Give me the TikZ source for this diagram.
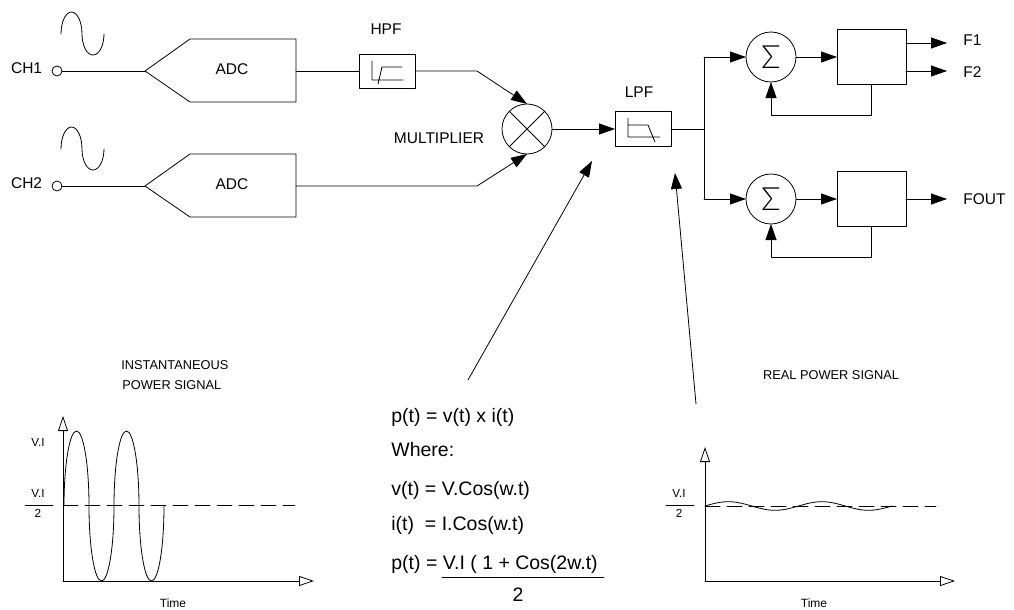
\documentclass[tikz,border=0pt]{standalone}
\usepackage{fontspec}
\setmainfont{Liberation Sans}
\newfontfamily\sumfont{Lato Light}
\usetikzlibrary{arrows.meta}
\tikzset{
	lbl/.style={inner sep=0pt,font=\fontsize{15.5}{18}\selectfont},
	smalltxt/.style={inner sep=0pt,font=\fontsize{12.8}{15}\selectfont},
	tinytxt/.style={inner sep=0pt,font=\fontsize{11.7}{14}\selectfont},
	eqn/.style={inner sep=0pt,anchor=base west,font=\fontsize{19.5}{23}\selectfont},
	box/.style={draw,inner sep=0pt,outer sep=0pt},
	sumnode/.style={draw,circle,inner sep=0pt,outer sep=0pt,minimum size=50pt,font=\sumfont\fontsize{32}{32}\selectfont},
	axisline/.style={-{Triangle[open,fill=white,length=15pt,width=10pt]}},
	dashline/.style={dash pattern=on 15pt off 7pt}
}
\begin{document}
\begin{tikzpicture}[x=1pt,y=-1pt,line join=round,line cap=round,line width=0.8pt,>={Triangle[length=16pt,width=11pt]}]
	\useasboundingbox (0,0) rectangle (1014,610);
	% input channels
	\foreach \y/\n in {71/1,186/2}{
		\node[box,circle,minimum size=10pt] (in\n) at (57,\y) {};
		\node[lbl,anchor=east] at (42.5,\y-3) {CH\n};
		\coordinate (tip\n) at (145,\y);
		\coordinate (out\n) at (296,\y);
		\draw (tip\n)--(190,\y-32)--(296,\y-32)--(296,\y+31)--(190,\y+31)--cycle;
		\node[lbl] (adc\n) at (232,\y-2) {ADC};
		\draw (in\n)--(tip\n);
		\draw (61,\y-37) arc[start angle=180,end angle=0,x radius=10.5pt,y radius=22pt]
			arc[start angle=180,end angle=360,x radius=11pt,y radius=21pt];
	}
	% filters and multiplier
	\node[box,minimum width=56pt,minimum height=34pt] (hpf) at (387,71) {};
	\node[lbl] at (386,29) {HPF};
	\draw (372,61)--(372,80)--(403,80) (378,84)--(382,67)--(402,67);
	\node[box,circle,minimum size=50pt] (mult) at (527,129) {};
	\draw (mult.45)--(mult.225) (mult.135)--(mult.315);
	\node[lbl] at (439,138) {MULTIPLIER};
	\node[box,minimum width=56pt,minimum height=35pt] (lpf) at (643,129) {};
	\node[lbl] at (639,92) {LPF};
	\draw (628,118)--(628,137)--(660,137) (628,125)--(648,125)--(655,142);
	\coordinate (hpfbend) at (477,71);
	\coordinate (multbend) at (477,186);
	\draw (out1)--(hpf.west);
	\draw[->] (hpf.east)--(hpfbend)--(mult.north);
	\draw[->] (out2)--(multbend)--(mult.south);
	\draw[->] (mult.east)--(lpf.west);
	% real power paths
	\coordinate (split) at (704,129);
	\coordinate (splitup) at (704,57);
	\coordinate (splitdn) at (704,199);
	\draw (lpf.east)--(split);
	\draw (splitup)--(splitdn);
	\foreach \y/\n/\h in {57/1/up,199/2/dn}{
		\node[sumnode] (sum\n) at (771,\y) {Σ};
		\node[box,minimum width=69pt,minimum height=55pt] (fc\n) at (871.5,\y) {};
		\draw[->] (split\h)--(sum\n);
		\draw[->] (sum\n)--(fc\n);
		\draw[->] (fc\n.south)--++(0,31)-|(sum\n.south);
	}
	\coordinate (f1) at (947,43);
	\coordinate (f2) at (947,71);
	\coordinate (f3) at (947,199);
	\draw[->] (fc1.east |- f1)--(f1);
	\draw[->] (fc1.east |- f2)--(f2);
	\draw[->] (fc2.east)--(f3);
	\node[lbl,anchor=west] at (963,40) {F1};
	\node[lbl,anchor=west] at (963,72) {F2};
	\node[lbl,anchor=west] at (963,199) {FOUT};
	% formula
	\coordinate (eqtail) at (468,380);
	\coordinate (eqtip) at (592,161);
	\coordinate (realtail) at (696,404);
	\coordinate (realtip) at (675,173);
	\draw[->] (eqtail)--(eqtip);
	\draw[->] (realtail)--(realtip);
	\node[eqn] at (391,422) {p(t) = v(t) x i(t)};
	\node[eqn] at (391,456) {Where:};
	\node[eqn] at (391,495) {v(t) = V.Cos(w.t)};
	\node[eqn] at (391,530) {i(t) \ = I.Cos(w.t)};
	\node[eqn] at (391,569) {p(t) = V.I ( 1 + Cos(2w.t)};
	\draw (442,577)--(604,577);
	\node[eqn,anchor=base] at (518,601) {2};
	% instantaneous power
	\node[smalltxt,anchor=west] at (121,365) {INSTANTANEOUS};
	\node[smalltxt,anchor=west] at (122,385) {POWER SIGNAL};
	\draw[axisline] (63,581)--(63,416);
	\draw[axisline] (63,581)--(314,581);
	\draw[dashline] (63,505)--(295,505);
	\draw (25,505)--(53,505);
	\node[tinytxt] at (38,442) {V.I};
	\node[tinytxt] at (38,493) {V.I};
	\node[tinytxt] at (38,513) {2};
	\draw (64,506) arc[start angle=180,end angle=0,x radius=12.5pt,y radius=75pt]
		arc[start angle=180,end angle=360,x radius=12.5pt,y radius=75pt]
		arc[start angle=180,end angle=0,x radius=12.5pt,y radius=75pt]
		arc[start angle=180,end angle=360,x radius=12.5pt,y radius=75pt];
	\node[tinytxt,font=\fontsize{12}{14}\selectfont] at (173,603) {Time};
	% real power
	\node[smalltxt] at (831,375) {REAL POWER SIGNAL};
	\draw[axisline] (705,581)--(705,447);
	\draw[axisline] (705,581)--(955,581);
	\draw[dashline] (705,506)--(936,506);
	\draw (666,505)--(694,505);
	\node[tinytxt] at (679,493) {V.I};
	\node[tinytxt] at (679,513) {2};
	\draw[samples=200,domain=705:892,smooth,variable=\x] plot (\x,{506-4.3*sin((\x-705)/93.5*360)});
	\node[tinytxt,font=\fontsize{12}{14}\selectfont] at (814,603) {Time};
\end{tikzpicture}
\end{document}
